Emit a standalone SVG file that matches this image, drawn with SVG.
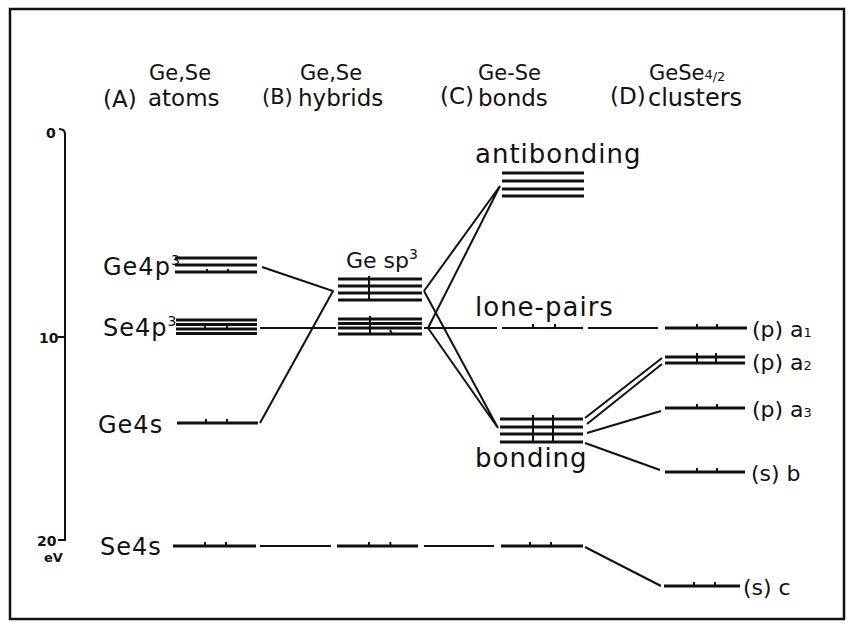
<svg xmlns="http://www.w3.org/2000/svg" width="850" height="631" viewBox="0 0 850 631">
  <style>
    text { font-family: "DejaVu Sans", "Liberation Sans", sans-serif; fill: #111; }
    .hdr { font-size: 23px; }
    .sup { font-size: 21px; }
    .lab { font-size: 24px; letter-spacing: 1px; }
    .mid { font-size: 26px; letter-spacing: 1px; }
    .rlab { font-size: 22px; }
    .ax { font-size: 14px; font-weight: bold; }
    .lvl { stroke: #111; stroke-width: 2.8; fill: none; }
    .con { stroke: #111; stroke-width: 2; fill: none; }
    .dot { stroke: #111; stroke-width: 2; fill: none; }
  </style>

  <rect x="10" y="9" width="834" height="610" fill="#fff" stroke="#111" stroke-width="2.5"/>

  <!-- energy axis -->
  <g id="axis">
    <path class="con" d="M59,129 Q65,129 65,134 L65,540 L58,540 M58,337 L65,337"/>
    <text class="ax" x="46" y="138">0</text>
    <text class="ax" x="39" y="343">10</text>
    <text class="ax" x="37" y="546">20</text>
    <text class="ax" x="44" y="562" style="font-size:13px">eV</text>
  </g>

  <!-- column headers -->
  <g id="header-A">
    <text class="hdr" x="103" y="107">(A)</text>
    <text class="sup" x="149" y="80">Ge,Se</text>
    <text class="hdr" x="148" y="106">atoms</text>
  </g>
  <g id="header-B">
    <text class="hdr" x="262" y="104" style="font-size:21px">(B)</text>
    <text class="sup" x="300" y="80">Ge,Se</text>
    <text class="hdr" x="298" y="106">hybrids</text>
  </g>
  <g id="header-C">
    <text class="hdr" x="440" y="104">(C)</text>
    <text class="sup" x="478" y="80">Ge-Se</text>
    <text class="hdr" x="478" y="106">bonds</text>
  </g>
  <g id="header-D">
    <text class="hdr" x="610" y="104">(D)</text>
    <text class="sup" x="649" y="80">GeSe<tspan font-size="13" dy="-1">4</tspan><tspan font-size="13" dy="2">/2</tspan></text>
    <text class="hdr" x="648" y="106" style="font-size:24px">clusters</text>
  </g>

  <!-- connectors between levels -->
  <g id="connectors">
    <path class="con" d="M262,267 L333,291 L260,423"/>
    <path class="con" d="M260,328 L336,328"/>
    <path class="con" d="M424,291 L500,186 L428,328"/>
    <path class="con" d="M424,291 L498,428 L428,328"/>
    <path class="con" d="M424,328 L497,328 M588,328 L658,328"/>
    <path class="con" d="M585,418 L662,358 M587,424 L662,364"/>
    <path class="con" d="M587,433 L661,411"/>
    <path class="con" d="M585,443 L660,470"/>
    <path class="con" d="M260,546 L331,546 M424,546 L494,546 M585,547 L661,586"/>
  </g>

  <!-- (A) atomic levels -->
  <g id="Ge4p">
    <text class="lab" x="103" y="275">Ge4p<tspan font-size="14" dy="-10">3</tspan></text>
    <path class="lvl" d="M175,258 H257 M175,265 H257 M175,272 H257"/>
    <path class="dot" d="M207,272 v-3 M228,272 v-3"/>
  </g>
  <g id="Se4p">
    <text class="lab" x="103" y="336">Se4p<tspan font-size="14" dy="-10">3</tspan></text>
    <path class="lvl" d="M176,320 H257 M176,324.5 H257 M176,329 H257 M176,333.5 H257"/>
    <path class="dot" d="M205,329 v-4 M227,329 v-4"/>
  </g>
  <g id="Ge4s">
    <text class="lab" x="98" y="433">Ge4s</text>
    <path class="lvl" d="M177,423 H258"/>
    <path class="dot" d="M206,423 v-4 M227,423 v-4"/>
  </g>
  <g id="Se4s">
    <text class="lab" x="100" y="555">Se4s</text>
    <path class="lvl" d="M173,546 H256"/>
    <path class="dot" d="M205,546 v-4 M226,546 v-4"/>
  </g>

  <!-- (B) hybrid levels -->
  <g id="Ge-sp3">
    <text class="lab" x="346" y="268" style="font-size:22px;letter-spacing:0">Ge sp<tspan font-size="14" dy="-9">3</tspan></text>
    <path class="lvl" d="M338,279 H422 M338,286 H422 M338,293 H422 M338,300 H422"/>
    <path class="dot" d="M369,276 V300"/>
  </g>
  <g id="Se-hybrids">
    <path class="lvl" d="M338,319 H422 M338,323.5 H422 M338,328 H422 M338,334 H422"/>
    <path class="dot" d="M370,316 V334 M392,334 l-2,-4"/>
  </g>
  <g id="Se4s-B">
    <path class="lvl" d="M337,546 H418"/>
    <path class="dot" d="M369,546 v-4 M391,546 l-1,-4"/>
  </g>

  <!-- (C) bond levels -->
  <g id="antibonding">
    <text class="mid" x="475" y="163">antibonding</text>
    <path class="lvl" d="M502,173 H584 M502,181 H584 M502,189 H584 M502,196 H584"/>
  </g>
  <g id="lone-pairs">
    <text class="mid" x="475" y="316">lone-pairs</text>
    <path class="lvl" d="M502,328 H583" style="stroke-width:2.2"/>
    <path class="dot" d="M533,328 v-4 M555,328 v-4"/>
  </g>
  <g id="bonding">
    <text class="mid" x="475" y="467">bonding</text>
    <path class="lvl" d="M500,419 H583 M500,427 H583 M500,434 H583 M500,442 H583"/>
    <path class="dot" d="M533,415 V442 M553,415 V442"/>
  </g>
  <g id="Se4s-C">
    <path class="lvl" d="M501,546 H583"/>
    <path class="dot" d="M530,546 v-4 M551,546 v-4"/>
  </g>

  <!-- (D) cluster levels -->
  <g id="a1">
    <path class="lvl" d="M665,328 H747"/>
    <path class="dot" d="M697,328 v-4 M717,328 v-4"/>
    <text class="rlab" x="752" y="337">(p) a<tspan font-size="13">1</tspan></text>
  </g>
  <g id="a2">
    <path class="lvl" d="M665,357 H745 M665,363 H745"/>
    <path class="dot" d="M697,353 V363 M716,353 V363"/>
    <text class="rlab" x="752" y="370">(p) a<tspan font-size="13">2</tspan></text>
  </g>
  <g id="a3">
    <path class="lvl" d="M665,408 H745"/>
    <path class="dot" d="M697,408 v-4 M717,408 v-4"/>
    <text class="rlab" x="752" y="417">(p) a<tspan font-size="13">3</tspan></text>
  </g>
  <g id="b">
    <path class="lvl" d="M665,472 H745"/>
    <path class="dot" d="M697,472 v-4 M717,472 v-4"/>
    <text class="rlab" x="751" y="481">(s) b</text>
  </g>
  <g id="c">
    <path class="lvl" d="M664,586 H740"/>
    <path class="dot" d="M694,586 v-4 M715,586 v-4"/>
    <text class="rlab" x="743" y="595">(s) c</text>
  </g>
</svg>
